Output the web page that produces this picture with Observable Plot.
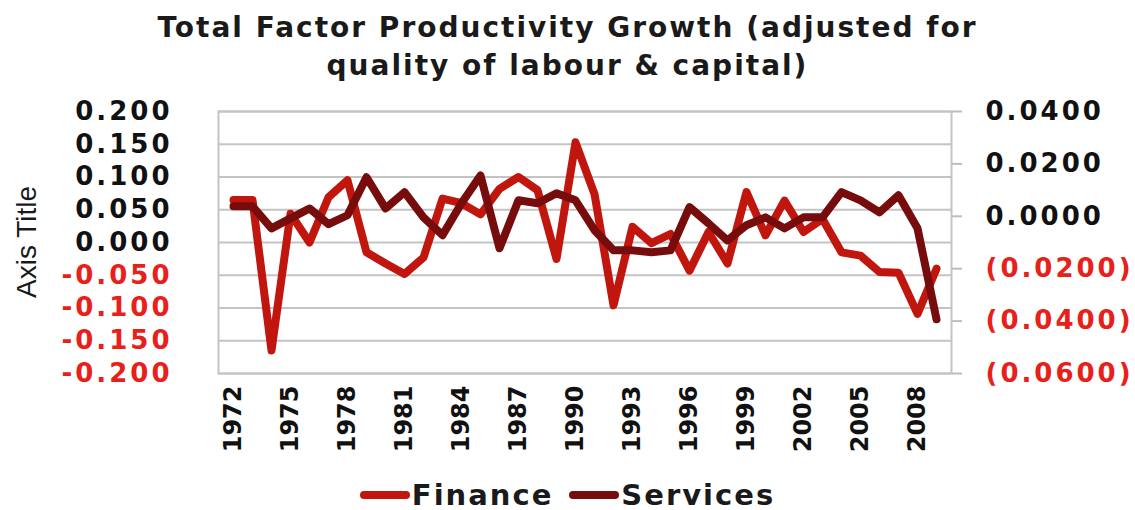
<!DOCTYPE html>
<html><head><meta charset="utf-8">
<script src="https://cdn.jsdelivr.net/npm/d3@7"></script>
<script src="https://cdn.jsdelivr.net/npm/@observablehq/plot@0.6"></script>
<style>
html,body{margin:0;padding:0;background:#fff;}
body{width:1135px;height:510px;overflow:hidden;position:relative;font-family:"DejaVu Sans",sans-serif;}
#title{position:absolute;left:0;top:9px;width:1135px;text-align:center;font-weight:bold;font-size:28px;line-height:38px;color:#1a1a1a;letter-spacing:2px;}
#chart{position:absolute;left:0;top:90px;}
#axistitle{position:absolute;left:27px;top:242px;transform:translate(-50%,-50%) rotate(-90deg);font-family:"Liberation Sans Narrow","Liberation Sans",sans-serif;font-size:28px;color:#1a1a1a;white-space:nowrap;}
#legend{position:absolute;left:0;top:478px;width:1135px;display:flex;justify-content:center;align-items:center;font-weight:bold;font-size:29px;letter-spacing:2px;color:#1a1a1a;}
#legend .item{display:flex;align-items:center;margin:0 8px;}
#legend .sw{display:inline-block;width:50px;height:8px;border-radius:4px;margin-right:2px;}
svg [aria-label="y-axis tick label"]{font-family:"DejaVu Sans",sans-serif;font-size:26px;font-weight:bold;letter-spacing:3px;}
svg [aria-label="x-axis tick label"]{font-family:"DejaVu Sans",sans-serif;font-size:24px;font-weight:bold;}
</style>
</head><body>
<div id="title">Total Factor Productivity Growth (adjusted for<br>quality of labour &amp; capital)</div>
<div id="axistitle">Axis Title</div>
<div id="chart"></div>
<div id="legend"></div>
<script>
const years = [1972,1973,1974,1975,1976,1977,1978,1979,1980,1981,1982,1983,1984,1985,1986,1987,1988,1989,1990,1991,1992,1993,1994,1995,1996,1997,1998,1999,2000,2001,2002,2003,2004,2005,2006,2007,2008,2009];
const finance = [0.065,0.065,-0.165,0.044,0.000,0.069,0.095,-0.015,-0.032,-0.048,-0.023,0.067,0.060,0.043,0.082,0.100,0.080,-0.025,0.153,0.074,-0.096,0.024,-0.001,0.013,-0.043,0.016,-0.032,0.077,0.011,0.064,0.016,0.036,-0.015,-0.020,-0.045,-0.046,-0.109,-0.040];
const services = [0.0038,0.0038,-0.0046,-0.0008,0.0030,-0.0030,0.0004,0.0149,0.0030,0.0092,-0.0004,-0.0072,0.0050,0.0156,-0.0122,0.0061,0.0050,0.0088,0.0061,-0.0053,-0.0130,-0.0130,-0.0137,-0.0130,0.0035,-0.0027,-0.0092,-0.0034,-0.0004,-0.0046,-0.0004,-0.0004,0.0092,0.0061,0.0015,0.0080,-0.0046,-0.0393];
const leftTicks = [0.2,0.15,0.1,0.05,0,-0.05,-0.1,-0.15,-0.2];
const rightTicks = [0.04,0.02,0,-0.02,-0.04,-0.06];
const xTickYears = [1972,1975,1978,1981,1984,1987,1990,1993,1996,1999,2002,2005,2008];
const seriesNames = ["Finance","Services"];
const colors = {Finance:"#c0160e", Services:"#760c0c"};

// secondary axis [-0.06,0.04] mapped onto primary [-0.2,0.2]
const leftDomain = [-0.2,0.2], rightDomain = [-0.06,0.04];
const toLeft = v => leftDomain[0] + (v - rightDomain[0]) / (rightDomain[1]-rightDomain[0]) * (leftDomain[1]-leftDomain[0]);
const fromLeft = v => (v - toLeft(0)) / (toLeft(1) - toLeft(0));

const finData = years.map((y,i)=>({year:y, value:finance[i]}));
const serData = years.map((y,i)=>({year:y, value:services[i]}));
const red = "#e8201a", black = "#111";
const fmtR = v => { const s = Math.abs(v).toFixed(4); return v < -1e-9 ? "(" + s + ")" : s; };

const chart = Plot.plot({
  width:1135, height:380,
  marginTop:21, marginBottom:97, marginLeft:218, marginRight:184,
  x:{type:"point", domain:years, padding:0.5},
  y:{domain:leftDomain},
  marks:[
    Plot.gridY(leftTicks, {stroke:"#c4c4c4", strokeWidth:2, strokeOpacity:1}),
    Plot.frame({stroke:"#c4c4c4", strokeWidth:2}),
    Plot.axisY(leftTicks.filter(d=>d>=0), {anchor:"left", tickSize:0, tickPadding:46, tickFormat:d=>d.toFixed(3), fill:black, label:null}),
    Plot.axisY(leftTicks.filter(d=>d<0), {anchor:"left", tickSize:0, tickPadding:46, tickFormat:d=>d.toFixed(3), fill:red, label:null}),
    Plot.axisY(rightTicks.filter(d=>d>=0).map(toLeft), {anchor:"right", tickSize:10, tickPadding:24, stroke:"#bdbdbd", strokeWidth:2, tickFormat:d=>fmtR(fromLeft(d)), fill:black, label:null}),
    Plot.axisY(rightTicks.filter(d=>d<0).map(toLeft), {anchor:"right", tickSize:10, tickPadding:24, stroke:"#bdbdbd", strokeWidth:2, tickFormat:d=>fmtR(fromLeft(d)), fill:red, label:null}),
    Plot.axisX(xTickYears, {tickRotate:-90, tickSize:0, tickPadding:12, fill:black, label:null, tickFormat:d=>String(d)}),
    Plot.lineY(finData, {x:"year", y:"value", stroke:colors.Finance, strokeWidth:8, strokeLinejoin:"round", strokeLinecap:"round"}),
    Plot.lineY(serData, {x:"year", y:d=>toLeft(d.value), stroke:colors.Services, strokeWidth:8, strokeLinejoin:"round", strokeLinecap:"round"})
  ]
});
document.getElementById("chart").appendChild(chart);

const legend = document.getElementById("legend");
seriesNames.forEach(n=>{
  const it = document.createElement("span"); it.className="item";
  const sw = document.createElement("span"); sw.className="sw"; sw.style.background = colors[n];
  it.appendChild(sw); it.appendChild(document.createTextNode(n));
  legend.appendChild(it);
});
</script>
</body></html>
